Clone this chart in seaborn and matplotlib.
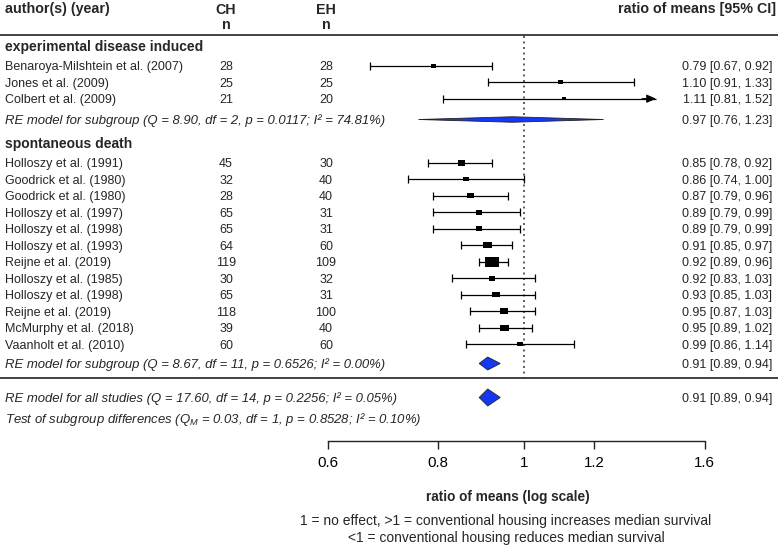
import numpy as np
import pandas as pd
import matplotlib
matplotlib.use("Agg")
import matplotlib.pyplot as plt
import seaborn as sns
from matplotlib.transforms import blended_transform_factory
from matplotlib.patches import Polygon
from matplotlib.ticker import FixedLocator, FixedFormatter, NullLocator

# ---------------- data ----------------
studies = ["Benaroya-Milshtein et al. (2007)", "Jones et al. (2009)", "Colbert et al. (2009)",
           "Holloszy et al. (1991)", "Goodrick et al. (1980)", "Goodrick et al. (1980)",
           "Holloszy et al. (1997)", "Holloszy et al. (1998)", "Holloszy et al. (1993)",
           "Reijne et al. (2019)", "Holloszy et al. (1985)", "Holloszy et al. (1998)",
           "Reijne et al. (2019)", "McMurphy et al. (2018)", "Vaanholt et al. (2010)"]
groups = ["experimental disease induced"] * 3 + ["spontaneous death"] * 12
ch_n = [28, 25, 21, 45, 32, 28, 65, 65, 64, 119, 30, 65, 118, 39, 60]
eh_n = [28, 25, 20, 30, 40, 40, 31, 31, 60, 109, 32, 31, 100, 40, 60]
est = [0.79, 1.10, 1.11, 0.85, 0.86, 0.87, 0.89, 0.89, 0.91, 0.92, 0.92, 0.93, 0.95, 0.95, 0.99]
ci_lo = [0.67, 0.91, 0.81, 0.78, 0.74, 0.79, 0.79, 0.79, 0.85, 0.89, 0.83, 0.85, 0.87, 0.89, 0.86]
ci_hi = [0.92, 1.33, 1.52, 0.92, 1.00, 0.96, 0.99, 0.99, 0.97, 0.96, 1.03, 1.03, 1.03, 1.02, 1.14]

group_names = ["experimental disease induced", "spontaneous death"]
sub_est = [0.97, 0.91]
sub_lo = [0.76, 0.89]
sub_hi = [1.23, 0.94]
sub_labels = ["RE model for subgroup (Q = 8.90, df = 2, p = 0.0117; I\u00b2 = 74.81%)",
              "RE model for subgroup (Q = 8.67, df = 11, p = 0.6526; I\u00b2 = 0.00%)"]
all_est, all_lo, all_hi = 0.91, 0.89, 0.94
all_label = "RE model for all studies (Q = 17.60, df = 14, p = 0.2256; I\u00b2 = 0.05%)"
test_label = r"Test of subgroup differences ($Q_M$ = 0.03, df = 1, p = 0.8528; I" + "\u00b2 = 0.10%)"

tick_vals = [0.6, 0.8, 1, 1.2, 1.6]
tick_labels = ["0.6", "0.8", "1", "1.2", "1.6"]
xlabel = "ratio of means (log scale)"
note1 = "1 = no effect, >1 = conventional housing increases median survival"
note2 = "<1 = conventional housing reduces median survival"

# ---------------- style ----------------
sns.set_theme(style="white")
plt.rcParams['font.family'] = ['Liberation Sans', 'DejaVu Sans']
plt.rcParams['mathtext.fontset'] = 'custom'
plt.rcParams['mathtext.it'] = 'Liberation Sans:italic'
plt.rcParams['mathtext.rm'] = 'Liberation Sans'
plt.rcParams['mathtext.bf'] = 'Liberation Sans:bold'

W, H = 778, 546
fig = plt.figure(figsize=(W / 100, H / 100), dpi=100)
ax = fig.add_axes([0, 0, 1, 1])

# layout (pixel-like vertical units, top = 0)
PX_PER_LN = 384.6
X_REF = 524            # pixel position of ratio 1
CLIP_HI = 1.41
step = 16.5
group_start = {"experimental disease induced": 65.7, "spontaneous death": 162.7}
group_head_y = [46.5, 143.0]
sub_y = [119.5, 363.5]
diamond_h = [5.5, 13]
all_y, all_h = 397.5, 17
test_y = 418.0
line1_y, line2_y = 34.5, 378.0
axis_y = 440.5

ys = []
counters = {g: 0 for g in group_names}
for g in groups:
    ys.append(group_start[g] + step * counters[g])
    counters[g] += 1
ys = np.array(ys)

lo = np.array(ci_lo)
hi = np.array(ci_hi)
prec = 3.92 / (np.log(hi) - np.log(lo))
psize = 0.5 + (prec - prec.min()) / (prec.max() - prec.min())
width_px = 8.9 * psize
sizes = (width_px * 0.72) ** 2

df = pd.DataFrame({"study": studies, "est": est, "y": ys, "s": sizes})

rect = [(-1, -0.72), (1, -0.72), (1, 0.72), (-1, 0.72), (-1, -0.72)]
sns.scatterplot(data=df, x="est", y="y", s=df["s"].values, marker=rect, color="black",
                edgecolor="none", linewidth=0, legend=False, ax=ax, zorder=4)

ax.set_xscale("log")
ax.set_xlim(np.exp(-X_REF / PX_PER_LN), np.exp((W - X_REF) / PX_PER_LN))
ax.set_ylim(H, 0)
ax.set_xlabel("")
ax.set_ylabel("")

# CI lines
hi_clip = np.minimum(hi, CLIP_HI)
ax.hlines(ys, lo, hi_clip, color="black", lw=0.9, zorder=3)
cap = 4.0
ax.vlines(lo, ys - cap, ys + cap, color="black", lw=0.9, zorder=3)
unclipped = hi <= CLIP_HI
ax.vlines(hi[unclipped], ys[unclipped] - cap, ys[unclipped] + cap, color="black", lw=0.9, zorder=3)
for yv in ys[~unclipped]:
    ax.annotate("", xy=(CLIP_HI, yv), xytext=(CLIP_HI * np.exp(-14 / PX_PER_LN), yv),
                arrowprops=dict(arrowstyle="-|>,head_length=0.8,head_width=0.35", lw=0.9,
                                color="black", mutation_scale=7, shrinkA=0, shrinkB=0), zorder=3)

# diamonds
def diamond(e, l, h, yc, hh):
    poly = Polygon([(l, yc), (e, yc - hh / 2), (h, yc), (e, yc + hh / 2)], closed=True,
                   facecolor="#1538f5", edgecolor="#222222", lw=0.6, zorder=4)
    ax.add_patch(poly)

for e, l, h, yc, hh in zip(sub_est, sub_lo, sub_hi, sub_y, diamond_h):
    diamond(e, l, h, yc, hh)
diamond(all_est, all_lo, all_hi, all_y, all_h)

# reference line & separators
ax.vlines(1.0, line1_y + 1, line2_y, color="#333333", lw=1.1, linestyles=(0, (1.3, 2.3)), zorder=2)
ax.axhline(line1_y, color="#222222", lw=1.2, zorder=2)
ax.axhline(line2_y, color="#222222", lw=1.2, zorder=2)

# x axis
for sp in ["left", "top", "right"]:
    ax.spines[sp].set_visible(False)
ax.spines["bottom"].set_position(("data", axis_y))
ax.spines["bottom"].set_bounds(tick_vals[0], tick_vals[-1])
ax.spines["bottom"].set_color("#222222")
ax.spines["bottom"].set_linewidth(1.0)
ax.xaxis.set_major_locator(FixedLocator(tick_vals))
ax.xaxis.set_major_formatter(FixedFormatter(tick_labels))
ax.xaxis.set_minor_locator(NullLocator())
ax.tick_params(axis="x", which="major", direction="out", length=6, width=1.0, color="#222222",
               labelsize=10.8, pad=5, bottom=True, labelcolor="black")
ax.tick_params(axis="y", left=False, labelleft=False)

# text
tr = blended_transform_factory(ax.transAxes, ax.transData)
fx = lambda px: px / W
BODY = 9.0
ITAL = 9.45
off = 0.36 * BODY / 0.72   # half cap-height in px for baseline placement
offi = 0.36 * ITAL / 0.72

ax.text(fx(5), 13.5, "author(s) (year)", transform=tr, fontsize=10.3, fontweight="bold", va="baseline")
ax.text(fx(226), 13.5, "CH", transform=tr, fontsize=10.3, fontweight="bold", va="baseline", ha="center")
ax.text(fx(326), 13.5, "EH", transform=tr, fontsize=10.3, fontweight="bold", va="baseline", ha="center")
ax.text(fx(226), 29.0, "n", transform=tr, fontsize=10.3, fontweight="bold", va="baseline", ha="center")
ax.text(fx(326), 29.0, "n", transform=tr, fontsize=10.3, fontweight="bold", va="baseline", ha="center")
ax.text(fx(776), 13.5, "ratio of means [95% CI]", transform=tr, fontsize=10.3, fontweight="bold",
        va="baseline", ha="right")

for g, gy in zip(group_names, group_head_y):
    ax.text(fx(5), gy + 0.36 * 10 / 0.72, g, transform=tr, fontsize=10, fontweight="bold", va="baseline")

for name, c, e_, es, l, h, yv in zip(studies, ch_n, eh_n, est, ci_lo, ci_hi, ys):
    ax.text(fx(5), yv + off, name, transform=tr, fontsize=BODY, va="baseline")
    ax.text(fx(226), yv + off, str(c), transform=tr, fontsize=BODY, va="baseline", ha="center")
    ax.text(fx(326), yv + off, str(e_), transform=tr, fontsize=BODY, va="baseline", ha="center")
    ax.text(fx(772), yv + off, f"{es:.2f} [{l:.2f}, {h:.2f}]", transform=tr, fontsize=BODY,
            va="baseline", ha="right")

for lab, e, l, h, yv in zip(sub_labels, sub_est, sub_lo, sub_hi, sub_y):
    ax.text(fx(5), yv + offi, lab, transform=tr, fontsize=ITAL, style="italic", va="baseline")
    ax.text(fx(772), yv + off, f"{e:.2f} [{l:.2f}, {h:.2f}]", transform=tr, fontsize=BODY,
            va="baseline", ha="right")

ax.text(fx(5), all_y + offi, all_label, transform=tr, fontsize=ITAL, style="italic", va="baseline")
ax.text(fx(772), all_y + off, f"{all_est:.2f} [{all_lo:.2f}, {all_hi:.2f}]", transform=tr,
        fontsize=BODY, va="baseline", ha="right")
ax.text(fx(5), test_y + offi, test_label, transform=tr, fontsize=ITAL, style="italic", va="baseline")

ax.text(fx(508), 497, xlabel, transform=tr, fontsize=9.8, fontweight="bold", ha="center", va="center")
ax.text(fx(506), 521, note1, transform=tr, fontsize=10, ha="center", va="center")
ax.text(fx(506), 538, note2, transform=tr, fontsize=10, ha="center", va="center")

fig.savefig("out.png", dpi=100, facecolor="white")
